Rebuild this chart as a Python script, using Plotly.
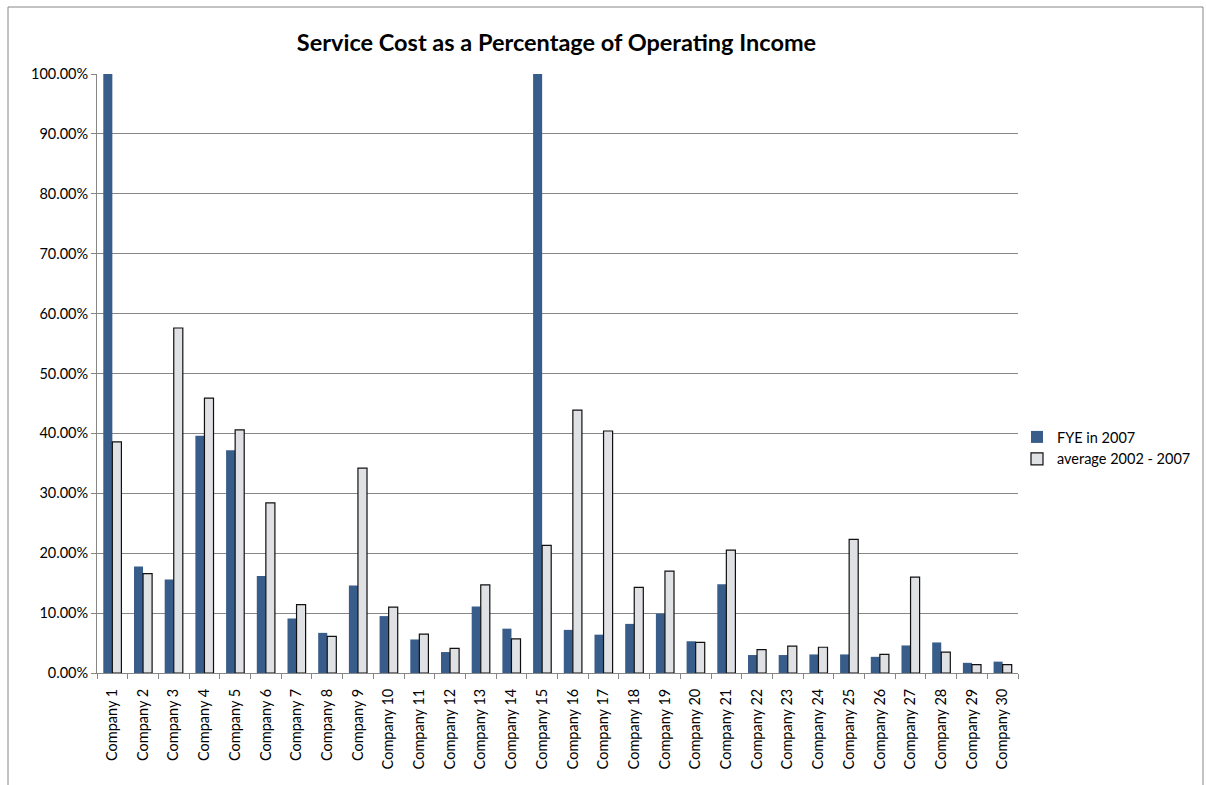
import plotly.graph_objects as go

companies = [f"Company {i}" for i in range(1, 31)]
fye_2007 = [1.00, 0.178, 0.156, 0.396, 0.372, 0.162, 0.091, 0.067, 0.146, 0.095,
            0.056, 0.035, 0.111, 0.074, 1.00, 0.072, 0.064, 0.082, 0.099, 0.053,
            0.148, 0.030, 0.030, 0.031, 0.031, 0.027, 0.046, 0.051, 0.017, 0.019]
avg_2002_2007 = [0.386, 0.166, 0.576, 0.459, 0.406, 0.284, 0.114, 0.061, 0.342, 0.110,
                 0.065, 0.041, 0.147, 0.057, 0.213, 0.439, 0.404, 0.143, 0.170, 0.051,
                 0.205, 0.039, 0.045, 0.043, 0.223, 0.031, 0.160, 0.035, 0.014, 0.014]
y_ticks = [i / 10 for i in range(11)]

FONT = "Lato, 'Open Sans', Arial, sans-serif"
TS = 14.5

fig = go.Figure()
fig.add_trace(go.Bar(x=companies, y=fye_2007, name="FYE in 2007",
                     marker=dict(color="#385D8A", line=dict(width=0))))
fig.add_trace(go.Bar(x=companies, y=avg_2002_2007, name="average 2002 - 2007",
                     marker=dict(color="#E0E1E5", line=dict(color="#111111", width=1.2))))

fig.update_layout(
    width=1206, height=785,
    margin=dict(l=97, r=188, t=74, b=112, autoexpand=False),
    paper_bgcolor="white", plot_bgcolor="white",
    font=dict(family=FONT, size=TS, color="#000000"),
    title=dict(text="<b>Service Cost as a Percentage of Operating Income</b>",
               x=(298 + 815) / 2 / 1206, xanchor="center", y=1 - 43 / 785, yanchor="middle",
               font=dict(family="Lato, 'Open Sans', sans-serif", size=23.5, color="#000000")),
    barmode="group", bargap=0.41, bargroupgap=0.0,
    showlegend=True,
    legend=dict(x=(1017 - 97) / 921, xanchor="left", y=(673 - 448) / 599, yanchor="middle",
                font=dict(size=TS, family=FONT), bgcolor="rgba(0,0,0,0)",
                itemwidth=30, tracegroupgap=6),
    xaxis=dict(type="category", tickangle=-90, ticks="outside", tickson="boundaries",
               ticklen=5, tickcolor="#868686", showline=True, linecolor="#868686",
               linewidth=1, showgrid=False, tickfont=dict(size=TS, family=FONT),
               ticklabelstandoff=9),
    yaxis=dict(range=[0, 1], tickvals=y_ticks, tickformat=".2%", ticks="outside",
               ticklen=5, tickcolor="#868686", showline=True, linecolor="#868686",
               linewidth=1, showgrid=True, gridcolor="#868686", gridwidth=1,
               zeroline=False, tickfont=dict(size=TS, family=FONT)),
    shapes=[dict(type="rect", xref="paper", yref="paper",
                 x0=(8 - 97) / 921, x1=(1203 - 97) / 921,
                 y0=(673 - 800) / 599, y1=(673 - 7) / 599,
                 line=dict(color="#868686", width=1), fillcolor="rgba(0,0,0,0)", layer="below")],
)

fig.write_html("out.html")
